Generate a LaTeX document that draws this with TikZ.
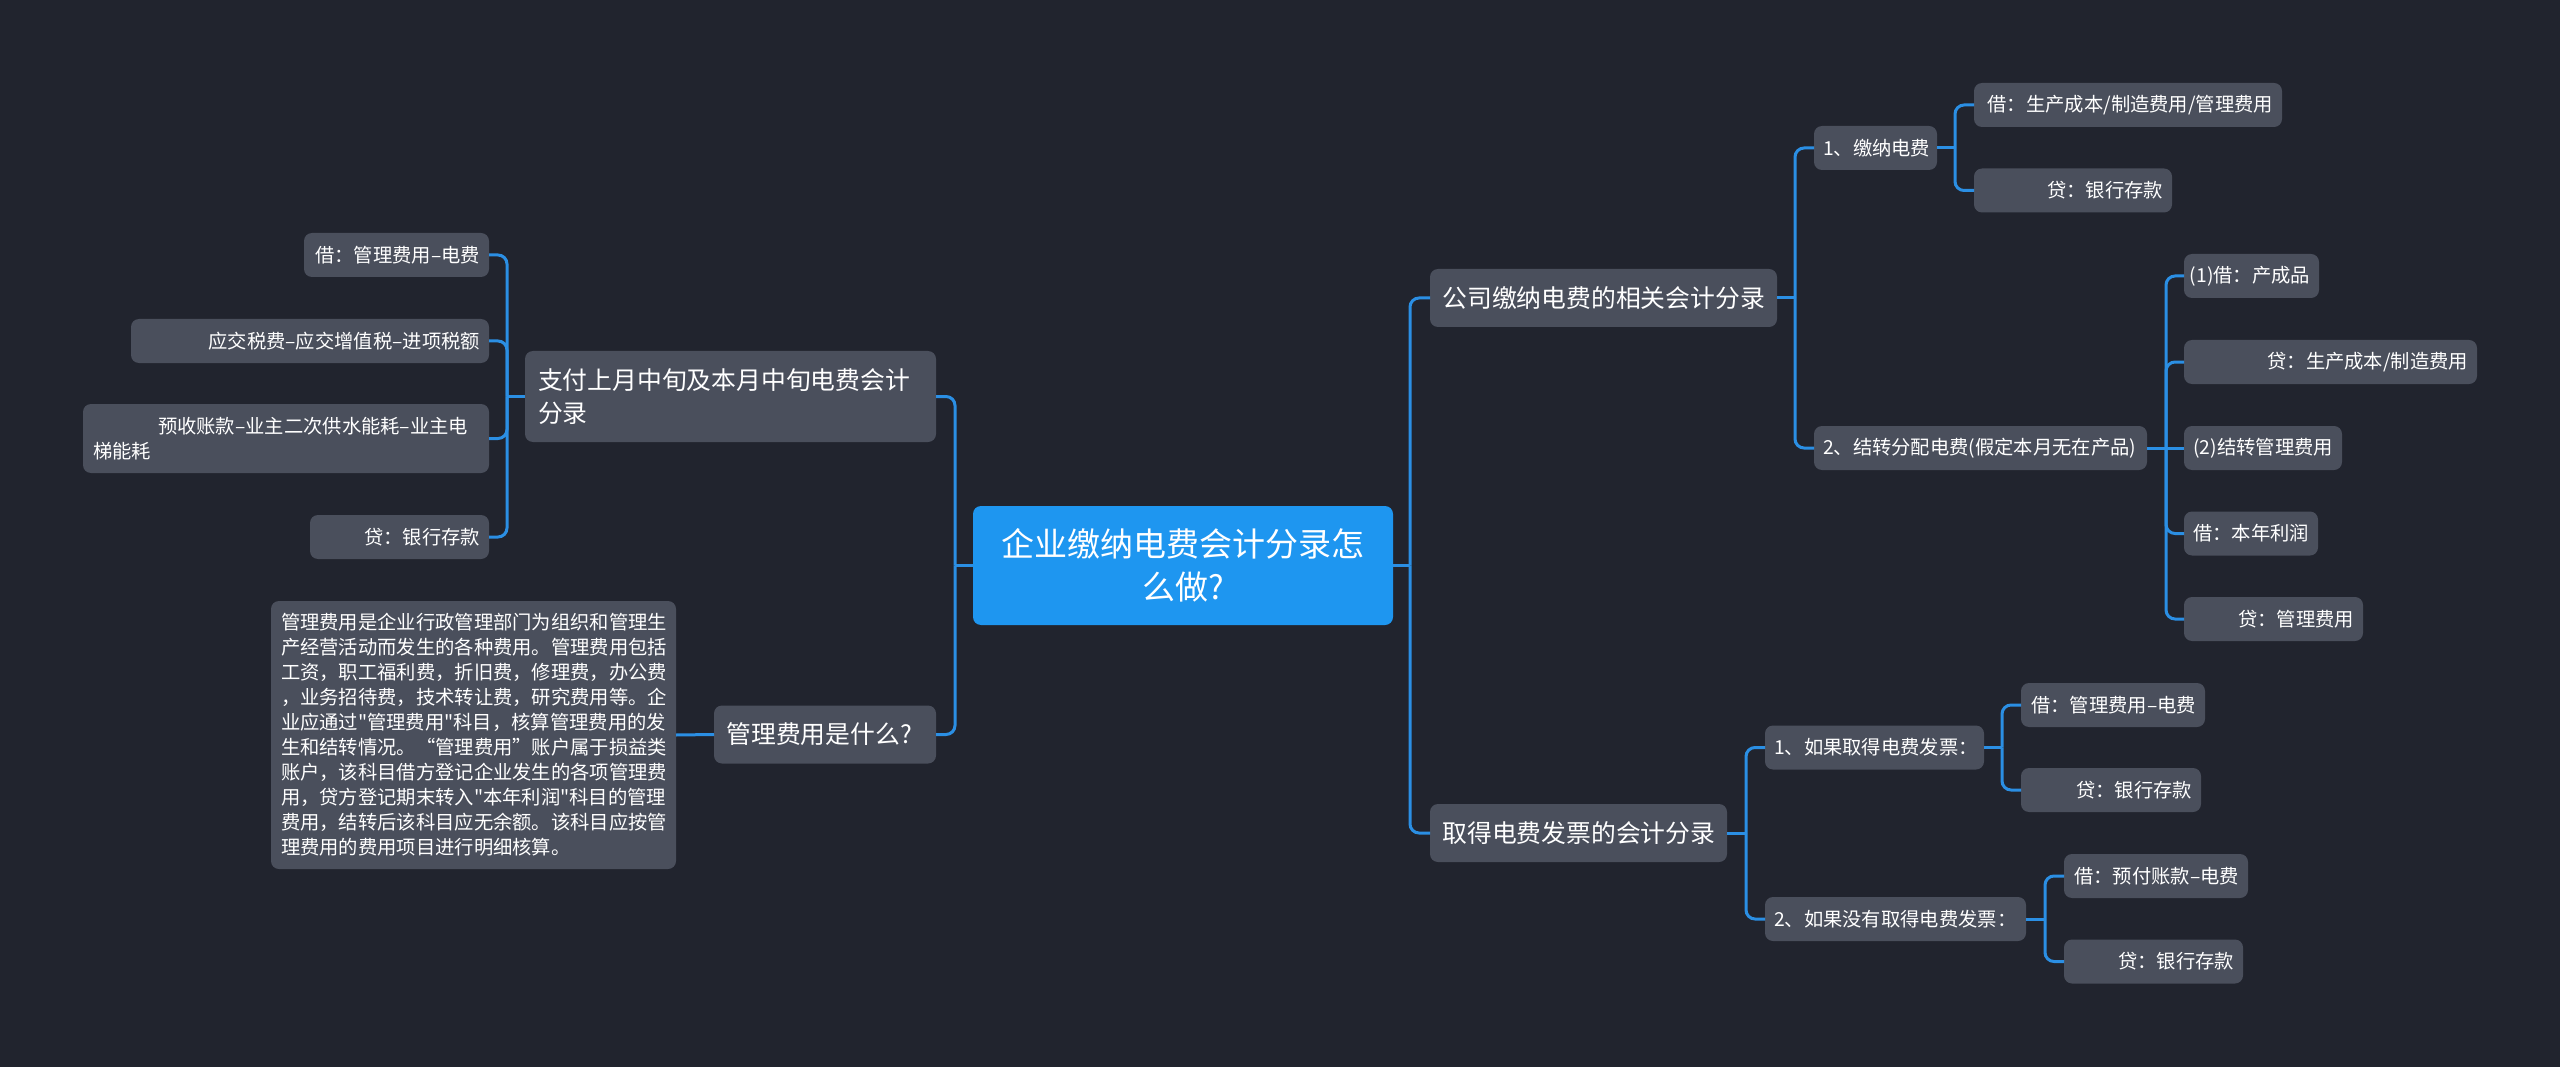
\documentclass[tikz,border=0pt]{standalone}
\usepackage{fontspec}
\setmainfont{Noto Sans CJK SC}[Ligatures=TeXOff]
\usetikzlibrary{calc}
\definecolor{bgc}{HTML}{21242E}
\definecolor{nodefill}{HTML}{4A4F5C}
\definecolor{connc}{HTML}{2B8FE4}
\definecolor{rootfill}{HTML}{1E96F0}
\newcommand\fsS{\fontsize{19.3}{25}\selectfont}
\newcommand\fsM{\fontsize{24.8}{33}\selectfont}
\newcommand\fsL{\fontsize{33}{43}\selectfont}
\newcommand\rtx[2]{\makebox[\dimexpr#1pt-18pt\relax][r]{#2}}
\newcommand\ltx[2]{\makebox[\dimexpr#1pt-18pt\relax][l]{#2}}
\newcommand\ltm[2]{\makebox[\dimexpr#1pt-25pt\relax][l]{#2}}
\begin{document}
\begin{tikzpicture}[x=1pt,y=-1pt,
  box/.style={rectangle, rounded corners=8pt, fill=nodefill, text=white, inner ysep=0pt, outer sep=0pt},
  leaf/.style={box, font=\fsS, inner xsep=9pt, minimum height=44pt},
  topic/.style={box, font=\fsM, inner xsep=12.5pt, minimum height=58pt},
  root/.style={box, fill=rootfill, font=\fsL, align=center, minimum width=420pt, minimum height=119pt},
  conn/.style={draw=connc, line width=3pt},
  elbow/.style={conn, rounded corners=9pt}]
\fill[bgc] (0,0) rectangle (2560,1067);
\useasboundingbox (0,0) rectangle (2560,1067);

% root
\node[root] (root) at (1183,565.5) {企业缴纳电费会计分录怎\\么做?};

% left topics
\node[topic, minimum height=91pt, text width=385pt, align=left, inner xsep=13pt] (p1) at (730.5,396.5) {支付上月中旬及本月中旬电费会计\\分录};
\node[topic] (p2) at (825,734.5) {\ltm{222}{管理费用是什么?}};
\node[box, font=\fsS, text width=385pt, align=left, inner xsep=10pt, minimum height=268pt] (txt) at (473.5,735) {管理费用是企业行政管理部门为组织和管理生\\产经营活动而发生的各种费用。管理费用包括\\工资，职工福利费，折旧费，修理费，办公费\\，业务招待费，技术转让费，研究费用等。企\\业应通过"管理费用"科目，核算管理费用的发\\生和结转情况。“管理费用”账户属于损益类\\账户，该科目借方登记企业发生的各项管理费\\用，贷方登记期末转入"本年利润"科目的管理\\费用，结转后该科目应无余额。该科目应按管\\理费用的费用项目进行明细核算。};

% left leaves
\node[leaf] (l1) at (396.5,255) {\rtx{185}{借：管理费用–电费}};
\node[leaf] (l2) at (310,341) {\rtx{358}{应交税费–应交增值税–进项税额}};
\node[leaf, text width=386pt, align=left, inner xsep=10pt, minimum height=69pt] (l3) at (286,438.5) {\hspace*{65pt}预收账款–业主二次供水能耗–业主电\\梯能耗};
\node[leaf] (l4) at (399.5,537) {\rtx{179}{贷：银行存款}};

% right topics
\node[topic] (r1) at (1603.5,298) {\ltm{347}{公司缴纳电费的相关会计分录}};
\node[topic] (r2) at (1578.5,833) {\ltm{297}{取得电费发票的会计分录}};

% right level 2
\node[leaf] (a) at (1875.5,148) {\ltx{123}{1、缴纳电费}};
\node[leaf] (b) at (1980.5,448) {\ltx{333}{2、结转分配电费(假定本月无在产品)}};
\node[leaf] (c) at (1874.5,747.5) {\ltx{219}{1、如果取得电费发票：}};
\node[leaf] (d) at (1895.5,919) {\ltx{261}{2、如果没有取得电费发票：}};

% right leaves
\node[leaf] (a1) at (2128,105) {\rtx{308}{借：生产成本/制造费用/管理费用}};
\node[leaf] (a2) at (2073,190.5) {\rtx{198}{贷：银行存款}};
\node[leaf] (b1) at (2251.5,276) {\rtx{135}{(1)借：产成品}};
\node[leaf] (b2) at (2330.5,362) {\rtx{293}{贷：生产成本/制造费用}};
\node[leaf] (b3) at (2263,448) {\rtx{158}{(2)结转管理费用}};
\node[leaf] (b4) at (2251,533.5) {\rtx{134}{借：本年利润}};
\node[leaf] (b5) at (2273.5,619) {\rtx{179}{贷：管理费用}};
\node[leaf] (c1) at (2113,705) {\rtx{184}{借：管理费用–电费}};
\node[leaf] (c2) at (2111,790) {\rtx{180}{贷：银行存款}};
\node[leaf] (d1) at (2156,876) {\rtx{184}{借：预付账款–电费}};
\node[leaf] (d2) at (2153.5,961.5) {\rtx{179}{贷：银行存款}};

% connectors
\draw[conn] (root.west) -- ++(-18,0) coordinate (jl);
\draw[elbow] (jl) |- (p1.east);
\draw[elbow] (jl) |- (p2.east);
\draw[conn] (p1.west) -- ++(-18,0) coordinate (jp1);
\foreach \n in {l1,l2,l3,l4} \draw[elbow] (jp1) |- (\n.east);
\draw[conn] (p2.west) -- (txt.east);

\draw[conn] (root.east) -- ++(17,0) coordinate (jr);
\draw[elbow] (jr) |- (r1.west);
\draw[elbow] (jr) |- (r2.west);
\draw[conn] (r1.east) -- ++(18,0) coordinate (jr1);
\foreach \n in {a,b} \draw[elbow] (jr1) |- (\n.west);
\draw[conn] (a.east) -- ++(18,0) coordinate (ja);
\foreach \n in {a1,a2} \draw[elbow] (ja) |- (\n.west);
\draw[conn] (b.east) -- ++(19,0) coordinate (jb);
\foreach \n in {b1,b2,b4,b5} \draw[elbow] (jb) |- (\n.west);
\draw[conn] (jb) -- (b3.west);
\draw[conn] (r2.east) -- ++(19,0) coordinate (jr2);
\foreach \n in {c,d} \draw[elbow] (jr2) |- (\n.west);
\draw[conn] (c.east) -- ++(18,0) coordinate (jc);
\foreach \n in {c1,c2} \draw[elbow] (jc) |- (\n.west);
\draw[conn] (d.east) -- ++(19,0) coordinate (jd);
\foreach \n in {d1,d2} \draw[elbow] (jd) |- (\n.west);
\end{tikzpicture}
\end{document}
